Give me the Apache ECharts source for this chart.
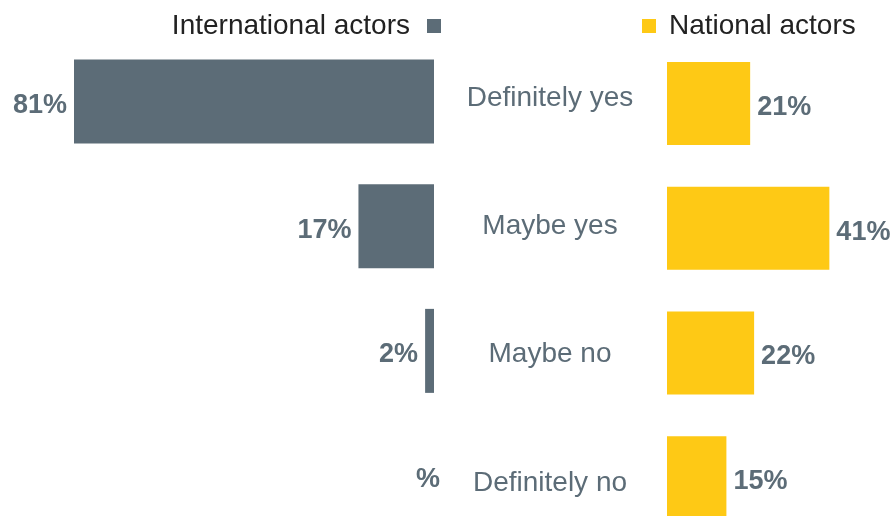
<!DOCTYPE html>
<html>
<head>
<meta charset="utf-8">
<script src="https://cdn.jsdelivr.net/npm/echarts@6/dist/echarts.min.js"></script>
<style>
  html, body { margin: 0; padding: 0; background: #fff; }
  #chart { width: 893px; height: 516px; }
</style>
</head>
<body>
<div id="chart"></div>
<script>
// Survey answers, top to bottom
const categories = ['Definitely yes', 'Maybe yes', 'Maybe no', 'Definitely no'];
// Share of respondents (%); null = no answer recorded
const internationalValues = [81, 17, 2, null];
const nationalValues = [21, 41, 22, 15];
const seriesNames = ['International actors', 'National actors'];

const GREY = '#5c6c77';
const YELLOW = '#fec915';
const FONT = 'Liberation Sans, Arial, sans-serif';

const valueLabel = {
  show: true,
  distance: 7,
  offset: [0, 4],
  color: GREY,
  fontFamily: FONT,
  fontSize: 27,
  fontWeight: 'bold',
  formatter: p => (p.value ? p.value : '') + '%'
};

// A missing value keeps its "%" label but draws no bar
const internationalData = internationalValues.map(v =>
  v == null ? { value: 0, label: { offset: [13, 4] } } : v
);

const chart = echarts.init(document.getElementById('chart'));
chart.setOption({
  animation: false,
  textStyle: { fontFamily: FONT },
  legend: [
    {
      data: [seriesNames[0]],
      align: 'right',
      right: 452,
      top: 12,
      padding: 0,
      icon: 'rect',
      itemWidth: 14,
      itemHeight: 14,
      textStyle: { fontSize: 28, color: '#222', fontFamily: FONT, padding: [0, 12, 0, 0] }
    },
    {
      data: [seriesNames[1]],
      left: 642,
      top: 12,
      padding: 0,
      icon: 'rect',
      itemWidth: 14,
      itemHeight: 14,
      textStyle: { fontSize: 28, color: '#222', fontFamily: FONT, padding: [0, 0, 0, 8] }
    }
  ],
  // the last row runs past the bottom edge, so the grids are not fitted to the canvas
  grid: [
    { left: 34, width: 400, top: 39, height: 499, outerBoundsMode: 'none' },
    { left: 667, width: 198, top: 41, height: 499, outerBoundsMode: 'none' },
    { left: 550, width: 1, top: 34, height: 513, outerBoundsMode: 'none' }
  ],
  xAxis: [
    { type: 'value', gridIndex: 0, min: 0, max: 90, inverse: true, show: false },
    { type: 'value', gridIndex: 1, min: 0, max: 50, show: false },
    { type: 'value', gridIndex: 2, min: 0, max: 1, show: false }
  ],
  yAxis: [
    { type: 'category', gridIndex: 0, data: categories, inverse: true, show: false },
    { type: 'category', gridIndex: 1, data: categories, inverse: true, show: false },
    {
      type: 'category',
      gridIndex: 2,
      data: categories,
      inverse: true,
      axisLine: { show: false },
      axisTick: { show: false },
      splitLine: { show: false },
      axisLabel: {
        margin: 0,
        align: 'center',
        color: GREY,
        fontSize: 28,
        fontFamily: FONT
      }
    }
  ],
  series: [
    {
      name: seriesNames[0],
      type: 'bar',
      xAxisIndex: 0,
      yAxisIndex: 0,
      barWidth: 84,
      itemStyle: { color: GREY },
      label: Object.assign({}, valueLabel, { position: 'left' }),
      data: internationalData
    },
    {
      name: seriesNames[1],
      type: 'bar',
      xAxisIndex: 1,
      yAxisIndex: 1,
      barWidth: 83,
      itemStyle: { color: YELLOW },
      label: Object.assign({}, valueLabel, { position: 'right' }),
      data: nationalValues
    }
  ]
});
</script>
</body>
</html>
